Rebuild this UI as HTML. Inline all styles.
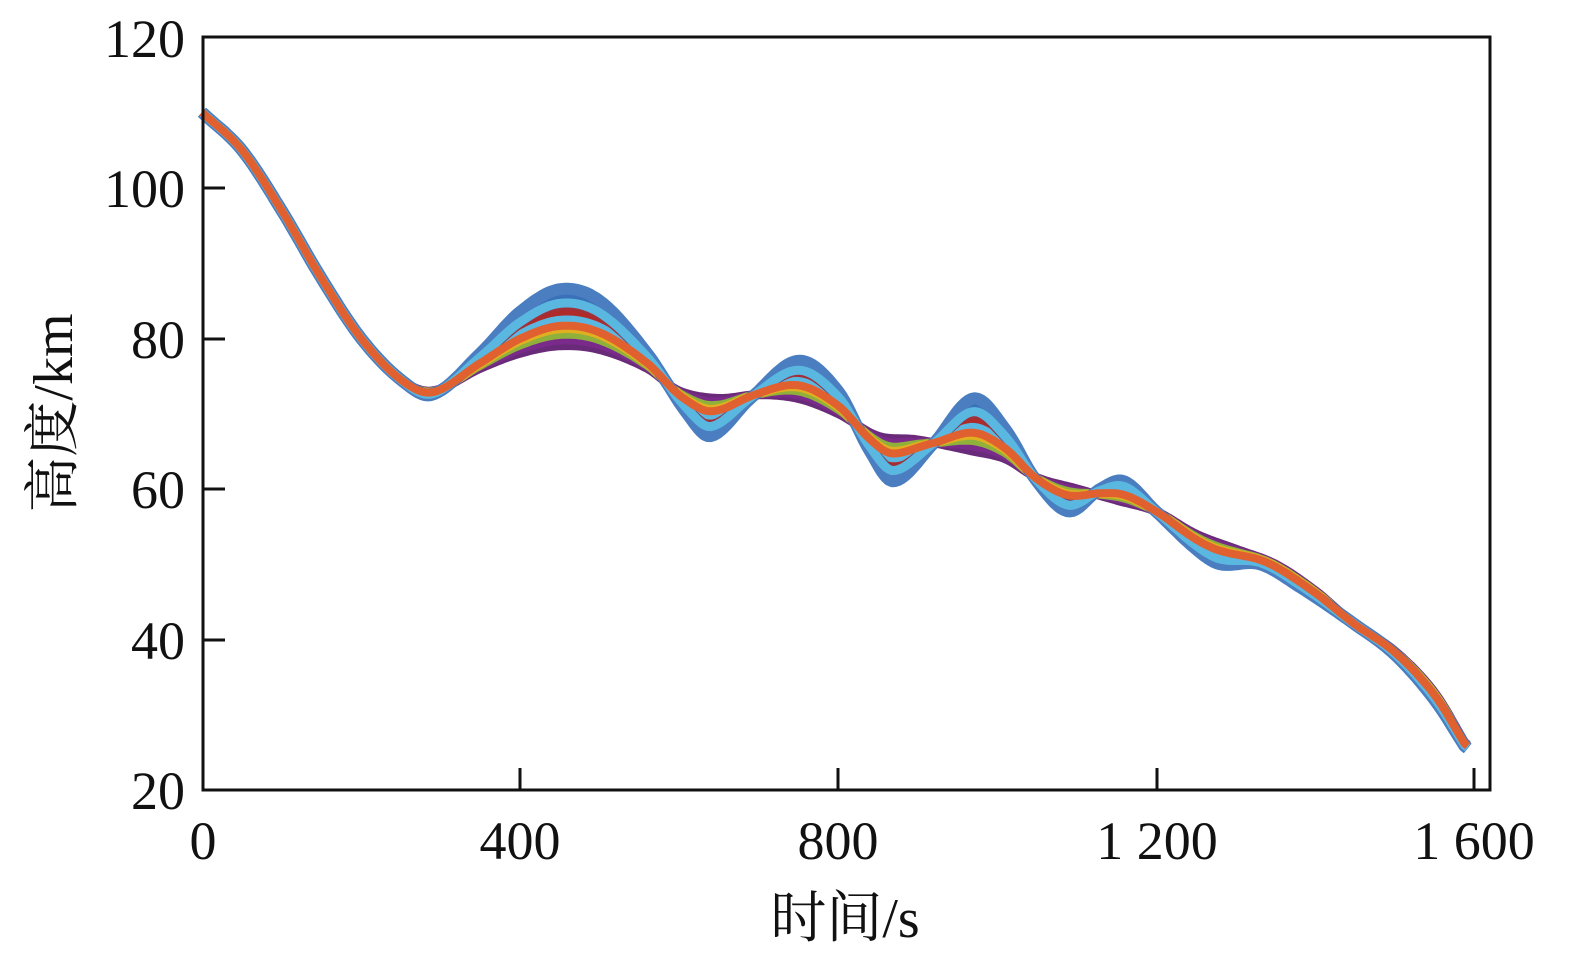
<!DOCTYPE html>
<html><head><meta charset="utf-8"><style>
html,body{margin:0;padding:0;background:#fff;}
svg{display:block;}
text{font-family:"Liberation Serif","Noto Serif CJK SC",serif;fill:#111;}
</style></head><body>
<svg id="s" width="1581" height="960" xmlns="http://www.w3.org/2000/svg">
<g id="curves"></g>
<rect x="203" y="37" width="1287" height="753" fill="none" stroke="#111" stroke-width="3"/>
<g stroke="#111" stroke-width="3">
<line x1="520" y1="790" x2="520" y2="768"/><line x1="838" y1="790" x2="838" y2="768"/><line x1="1157" y1="790" x2="1157" y2="768"/><line x1="1474" y1="790" x2="1474" y2="768"/>
<line x1="203" y1="188" x2="225" y2="188"/><line x1="203" y1="339" x2="225" y2="339"/><line x1="203" y1="489" x2="225" y2="489"/><line x1="203" y1="640" x2="225" y2="640"/>
</g>
<g font-size="54" text-anchor="end">
<text x="185" y="57">120</text><text x="185" y="207">100</text><text x="185" y="358">80</text><text x="185" y="508">60</text><text x="185" y="659">40</text><text x="185" y="809">20</text>
</g>
<g font-size="54" text-anchor="middle">
<text x="203" y="859">0</text><text x="520" y="859">400</text><text x="838" y="859">800</text><text x="1157" y="859">1 200</text><text x="1474" y="859">1 600</text>
</g>
<text x="845" y="937" font-size="56" text-anchor="middle">时间/s</text>
<text transform="translate(72,413) rotate(-90)" font-size="56" text-anchor="middle">高度/km</text>
</svg>
<script>
function X(t){return 202+t*318/400;}
function Y(h){return 790-(h-20)*150.6/20;}
var hi=[[0,110],[50,105],[100,97],[150,88],[200,80],[250,74.5],[290,72.5],[350,78],[400,83.5],[450,86.5],[500,85],[560,78],[610,70],[640,67],[690,72],[750,77],[800,73],[840,65],[870,61],[920,66],[970,72],[1010,68],[1050,61],[1090,57],[1130,60],[1160,61],[1200,57],[1250,52],[1280,50],[1330,50],[1380,47],[1450,42],[1500,38],[1550,32],[1590,25.5]];
var lo=[[0,110],[50,105],[100,97],[150,88],[200,80],[250,74.5],[290,73],[350,76],[400,78],[450,79],[500,78.5],[560,76],[600,73],[650,72],[700,72.5],[750,72],[800,70],[850,67],[900,66.5],[970,65],[1010,64],[1050,61.5],[1100,60],[1150,58.5],[1200,57],[1250,54],[1300,52],[1350,50],[1400,46.5],[1450,42],[1500,38.5],[1550,33],[1590,26]];
function interp(p,t){for(var i=0;i<p.length-1;i++){if(t<=p[i+1][0]){var p0=p[Math.max(0,i-1)],p1=p[i],p2=p[i+1],p3=p[Math.min(p.length-1,i+2)];var u=(t-p1[0])/(p2[0]-p1[0]);var m1=(p2[1]-p0[1])/(p2[0]-p0[0])*(p2[0]-p1[0]);var m2=(p3[1]-p1[1])/(p3[0]-p1[0])*(p2[0]-p1[0]);var u2=u*u,u3=u2*u;return (2*u3-3*u2+1)*p1[1]+(u3-2*u2+u)*m1+(-2*u3+3*u2)*p2[1]+(u3-u2)*m2;}}return p[p.length-1][1];}
var cols=[["#6a2a7a",0],["#7a2a8a",0.1],["#8fb03a",0.2],["#e0b020",0.3],["#b02a2a",0.55],["#5ab8e0",0.45],["#a0303a",0.7],["#3a70b8",0.8],["#3a70b8",0.9],["#4a7ec0",1.0],["#5ab8e0",0.75],["#e06030",0.35]];
var g=document.getElementById("curves"),html="";
cols.forEach(function(c,k){var l=c[1],d="";for(var t=0;t<=1592;t+=4){var h=l*interp(hi,t)+(1-l)*interp(lo,t);d+=(t?"L":"M")+X(t).toFixed(1)+" "+Y(h).toFixed(1);}
var w=k==cols.length-1?8:(c[0]=="#3a70b8"||c[0]=="#4a7ec0"?12:9);
html+='<path d="'+d+'" fill="none" stroke="'+c[0]+'" stroke-width="'+w+'" stroke-linejoin="round"/>';});
g.innerHTML=html;
</script>
</body></html>
